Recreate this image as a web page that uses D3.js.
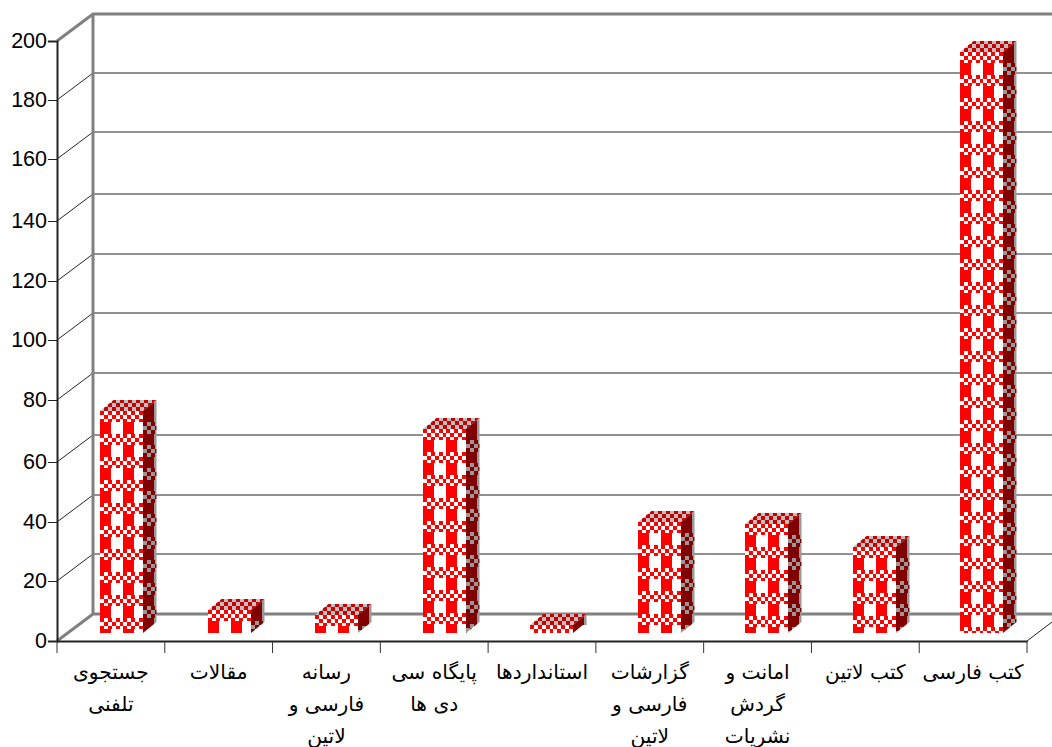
<!DOCTYPE html>
<html><head><meta charset="utf-8">
<script src="https://cdnjs.cloudflare.com/ajax/libs/d3/7.8.5/d3.min.js"></script>
<style>html,body{margin:0;padding:0;background:#fff}svg{display:block}</style></head>
<body><svg id="c" width="1052" height="747"></svg>
<script>
const categories=[["جستجوی","تلفنی"],["مقالات"],["رسانه","فارسی و","لاتین"],["پایگاه سی","دی ها"],["استانداردها"],["گزارشات","فارسی و","لاتین"],["امانت و","گردش","نشریات"],["کتب لاتین"],["کتب فارسی"]];
const values=[74,7.7,6,68,2.7,37,36.5,28.7,194];
const tickValues=[0,20,40,60,80,100,120,140,160,180,200];
const tickPixels=[641,581,522,462,400,340,281,221,159,100,41];
const svg=d3.select("#c");
const y=d3.scaleLinear().domain(tickValues).range(tickPixels);
const h=d3.scaleLinear().domain([0,200]).range([0,599]);
const x=d3.scaleBand().domain(d3.range(categories.length)).range([57,1027]);
const barX=d3.scaleLinear().domain([0,categories.length-1]).range([100,960]);
const depth={x:36,y:-27}, barD={x:13.5,y:-11}, barW=43, barBase=633;
const defs=svg.append("defs");
function pat(id,w,h,draw){const p=defs.append("pattern").attr("id",id).attr("patternUnits","userSpaceOnUse").attr("width",w).attr("height",h).attr("shape-rendering","crispEdges");draw(p);}
function rect(p,x,y,w,h,f){p.append("rect").attr("x",x).attr("y",y).attr("width",w).attr("height",h).attr("fill",f);}
pat("front",23,23,p=>{
  rect(p,0,0,23,23,"#fff");
  rect(p,0,11,11,12,"#f00");
  for(let i=0;i<6;i++)for(let j=0;j<3;j++) if((i+j)%2==0) rect(p,i*4,j*4,i==5?3:4,j==2?3:4,"#f00");
});
pat("side",23,23,p=>{
  rect(p,0,0,23,23,"#800000");
  rect(p,10.5,0,12.5,11,"#999");
  for(let i=0;i<6;i++)for(let j=0;j<3;j++) if((i+j)%2==1) rect(p,i*4,11+j*4,i==5?3:4,4,"#999");
});
pat("sideCap",23,23,p=>{
  rect(p,0,0,23,23,"#800000");
  rect(p,10.5,0,12.5,23,"#999");
});
pat("top",8,8,p=>{
  rect(p,0,0,8,8,"#c0c0c0");
  rect(p,0,0,4,4,"#c80000");rect(p,4,4,4,4,"#c80000");
});
const wall="#808080";
const grids=svg.append("g");
grids.selectAll("path").data(tickValues).join("path").attr("fill","none")
 .attr("stroke",d=>d==0||d==200?wall:"#222").attr("stroke-width",d=>d==0||d==200?3:1)
 .attr("d",d=>`M57,${y(d)}L${57+depth.x},${y(d)+depth.y}L1052,${y(d)+depth.y}`);
svg.append("line").attr("x1",93).attr("x2",93).attr("y1",y(200)+depth.y).attr("y2",y(0)+depth.y).attr("stroke",wall).attr("stroke-width",3);
svg.append("line").attr("x1",1027).attr("y1",641).attr("x2",1052).attr("y2",622).attr("stroke","#222");
const ax=svg.append("g").attr("transform","translate(57,0)").call(d3.axisLeft(y).tickValues(tickValues).tickSize(9).tickPadding(1));
ax.selectAll("path").attr("stroke","#222").attr("stroke-width",2);
ax.selectAll(".tick line").attr("stroke","#222");
ax.selectAll("text").attr("font-family","Liberation Sans").attr("font-size",21.5).attr("fill","#000");
const bx=svg.append("g").attr("transform","translate(0,641)").call(d3.axisBottom(x).tickValues([]).tickSizeOuter(0));
bx.select("path").attr("stroke","#222").attr("stroke-width",2);
svg.append("g").selectAll("line").data(d3.range(categories.length+1)).join("line")
 .attr("x1",d=>57+d*x.step()).attr("x2",d=>57+d*x.step()).attr("y1",641).attr("y2",653).attr("stroke","#333");
const b=svg.append("g").selectAll("g").data(values).join("g")
 .attr("transform",(d,i)=>`translate(${Math.round(barX(i))},${barBase-Math.round(h(d))})`);
b.append("path").attr("fill","url(#top)").attr("d",`M0,0l${barW},0l${barD.x},${barD.y}l${-barW},0z`);
const side=b.append("g").attr("transform",`translate(${barW},0)`);
side.append("path").attr("fill","url(#side)")
 .attr("d",d=>`M0,0L${barD.x},0l0,${Math.round(h(d))+barD.y}L0,${Math.round(h(d))}z`);
side.append("path").attr("fill","url(#sideCap)").attr("d",`M0,0l${barD.x},${barD.y}l0,${-barD.y}z`);
b.append("rect").attr("fill","url(#front)").attr("width",barW).attr("height",d=>Math.round(h(d)));
const t=svg.append("g").selectAll("text").data(categories).join("text").attr("direction","rtl")
 .attr("text-anchor","middle").attr("font-family","DejaVu Sans").attr("font-size",20.2).attr("fill","#000");
t.each(function(d,i){d3.select(this).selectAll("tspan").data(d).join("tspan").attr("x",x(i)+x.bandwidth()/2).attr("y",(s,k)=>679+k*32).text(s=>s);});
</script></body></html>
